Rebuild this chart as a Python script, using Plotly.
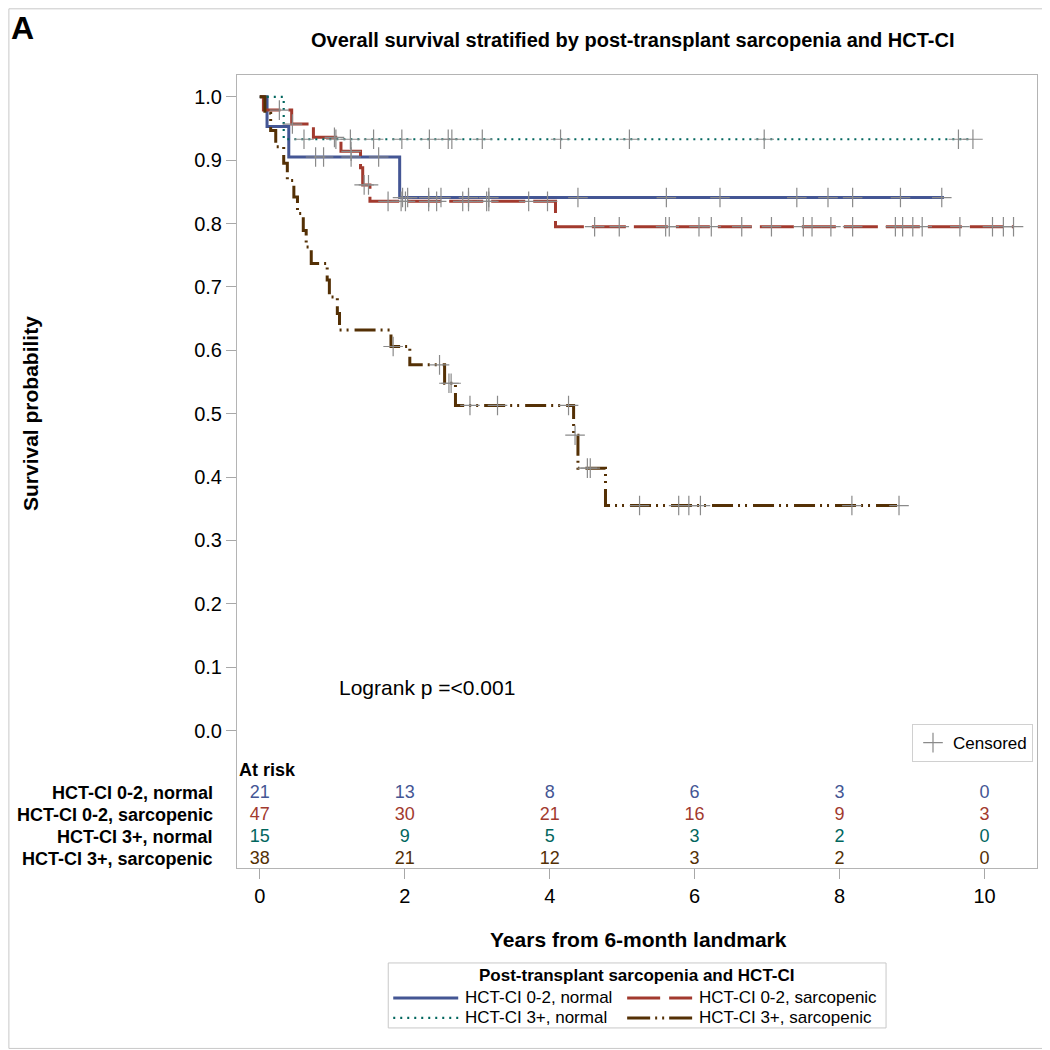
import numpy as np
import plotly.graph_objects as go

# ---------------- data ----------------
group_names = ["HCT-CI 0-2, normal", "HCT-CI 0-2, sarcopenic",
               "HCT-CI 3+, normal", "HCT-CI 3+, sarcopenic"]

# step points (time in years, survival after the step)
g1_times = [0.0, 0.10, 0.40, 1.93]
g1_surv = [1.0, 0.953, 0.905, 0.841]
g1_end = 9.44
g1_censor = [0.77, 0.88, 1.26, 1.64, 1.97, 2.04, 2.33, 2.50, 2.88, 3.16,
             4.39, 5.61, 6.35, 7.41, 7.84, 8.18, 8.84, 9.41]

g2_times = [0.0, 0.05, 0.44, 0.74, 1.12, 1.39, 1.42, 1.52, 4.08]
g2_surv = [1.0, 0.979, 0.957, 0.936, 0.914, 0.888, 0.861, 0.835, 0.795]
g2_end = 10.40
g2_censor = [0.27, 0.45, 1.03, 1.26, 1.44, 1.50, 1.77, 1.95, 2.01, 2.33, 2.44,
             2.80, 2.88, 3.13, 3.16, 3.71, 3.97, 4.62, 4.96, 5.60, 5.65, 6.06,
             6.23, 6.65, 7.06, 7.50, 7.62, 7.88, 8.18, 8.77, 8.87, 9.01, 9.14,
             9.66, 10.11, 10.26, 10.40]

g3_times = [0.0, 0.33]
g3_surv = [1.0, 0.933]
g3_end = 9.84
g3_censor = [0.61, 1.05, 1.25, 1.57, 1.96, 2.34, 2.60, 2.65, 3.07, 4.15, 5.10,
             6.96, 9.64, 9.84]

g4_times = [0.0, 0.07, 0.15, 0.22, 0.33, 0.38, 0.47, 0.52, 0.60, 0.64, 0.71,
            0.93, 0.96, 1.07, 1.10, 1.81, 2.07, 2.55, 2.70, 4.33, 4.39, 4.77]
g4_surv = [1.0, 0.974, 0.947, 0.921, 0.895, 0.868, 0.842, 0.816, 0.789, 0.763,
           0.737, 0.711, 0.684, 0.658, 0.632, 0.606, 0.577, 0.548, 0.513,
           0.466, 0.414, 0.355]
g4_end = 8.85
g4_censor = [1.84, 2.48, 2.61, 2.64, 2.90, 3.28, 4.26, 4.35, 4.52, 4.56, 5.24,
             5.78, 5.92, 6.08, 8.17, 8.82]

at_risk_times = [0, 2, 4, 6, 8, 10]
g1_at_risk = [21, 13, 8, 6, 3, 0]
g2_at_risk = [47, 30, 21, 16, 9, 3]
g3_at_risk = [15, 9, 5, 3, 2, 0]
g4_at_risk = [38, 21, 12, 3, 2, 0]

y_tick_vals = [0.0, 0.1, 0.2, 0.3, 0.4, 0.5, 0.6, 0.7, 0.8, 0.9, 1.0]
x_tick_vals = [0, 2, 4, 6, 8, 10]

# ---------------- styles ----------------
colors = ["#445694", "#A23A2E", "#01665E", "#543005"]
dashes = ["solid", "34px,8px", "2px,5px", "21px,5px,2px,5px,2px,6px"]
legend_dashes = ["solid", "33px,9px", "2px,5px", "23px,5px,2px,5px,2px,5px"]
widths = [3, 3, 2.2, 3]
FONT = "Liberation Sans, Arial, sans-serif"

groups = [
    (g1_times, g1_surv, g1_end, g1_censor, g1_at_risk),
    (g2_times, g2_surv, g2_end, g2_censor, g2_at_risk),
    (g3_times, g3_surv, g3_end, g3_censor, g3_at_risk),
    (g4_times, g4_surv, g4_end, g4_censor, g4_at_risk),
]

fig = go.Figure()

# survival curves
for i, (t, s, end, cens, risk) in enumerate(groups):
    fig.add_trace(go.Scatter(
        x=list(t) + [end], y=list(s) + [s[-1]],
        mode="lines", line=dict(shape="hv", color=colors[i], width=widths[i], dash=dashes[i]),
        name=group_names[i], showlegend=False, hoverinfo="skip"))

# censored marks
for i, (t, s, end, cens, risk) in enumerate(groups):
    ta = np.array(t)
    sa = np.array(s)
    idx = np.searchsorted(ta, np.array(cens), side="right") - 1
    fig.add_trace(go.Scatter(
        x=cens, y=sa[idx], mode="markers",
        marker=dict(symbol="cross-thin", size=14, color="#8a8a8a",
                    line=dict(width=1.2, color="#8a8a8a")),
        name="Censored", legend="legend2", showlegend=(i == 0), hoverinfo="skip"))

# at-risk table (inside the frame, below 0)
row_y = [-0.0986, -0.1333, -0.1680, -0.2027]
for i, (t, s, end, cens, risk) in enumerate(groups):
    fig.add_trace(go.Scatter(
        x=at_risk_times, y=[row_y[i]] * len(at_risk_times),
        mode="text", text=[str(v) for v in risk],
        textfont=dict(family=FONT, size=18, color=colors[i]),
        textposition="middle center", showlegend=False, hoverinfo="skip"))

# The page body has an 8px margin, so the figure is 1042 px and every
# reference pixel position is shifted by that offset.
OFF = 8
W = H = 1050 - OFF
L, R, T, B = 236.7 - OFF, 1037.0 - OFF, 74.7 - OFF, 868.0 - OFF
PW, PH = R - L, B - T
def px(x):
    return (x - OFF - L) / PW
def py(y):
    return (B - (y - OFF)) / PH

annotations = []
for i, name in enumerate(group_names):
    annotations.append(dict(text="<b>" + name + "</b>", xref="paper", yref="y",
                            x=px(215), y=row_y[i], xanchor="right", yanchor="middle",
                            showarrow=False, font=dict(family=FONT, size=18, color="black")))
annotations.append(dict(text="<b>At risk</b>", xref="paper", yref="y", x=px(237), y=-0.0623,
                        xanchor="left", yanchor="middle", showarrow=False,
                        font=dict(family=FONT, size=18, color="black")))
annotations.append(dict(text="Logrank p =<0.001", xref="x", yref="y", x=1.07, y=0.0686,
                        xanchor="left", yanchor="middle", showarrow=False,
                        font=dict(family=FONT, size=21, color="black")))
annotations.append(dict(text="<b>Survival probability</b>", xref="paper", yref="y",
                        x=px(30), y=0.5, xanchor="center", yanchor="middle", textangle=-90,
                        showarrow=False, font=dict(family=FONT, size=21, color="black")))
annotations.append(dict(text="<b>Years from 6-month landmark</b>", xref="paper", yref="paper",
                        x=px(638), y=py(940), xanchor="center", yanchor="middle",
                        showarrow=False, font=dict(family=FONT, size=21, color="black")))
annotations.append(dict(text="<b>Overall survival stratified by post-transplant sarcopenia and HCT-CI</b>",
                        xref="paper", yref="paper", x=px(633), y=py(40), xanchor="center",
                        yanchor="middle", showarrow=False,
                        font=dict(family=FONT, size=20, color="black")))
annotations.append(dict(text="<b>A</b>", xref="paper", yref="paper", x=px(9), y=py(28),
                        xanchor="left", yanchor="middle", showarrow=False,
                        font=dict(family=FONT, size=32, color="black")))

# outer border of the whole picture (right and bottom edges are visible)
shapes = [dict(type="rect", xref="paper", yref="paper", x0=px(8.5), x1=px(1047.5),
               y0=py(1048.5), y1=py(8.5), line=dict(color="#c8c8c8", width=1), layer="below")]

# group legend at the bottom (box, title, line samples and labels)
shapes.append(dict(type="rect", xref="paper", yref="paper", x0=px(388), x1=px(886),
                   y0=py(1028), y1=py(963), line=dict(color="#c8c8c8", width=1),
                   fillcolor="white", layer="below"))
annotations.append(dict(text="<b>Post-transplant sarcopenia and HCT-CI</b>", xref="paper",
                        yref="paper", x=px(637), y=py(976), xanchor="center", yanchor="middle",
                        showarrow=False, font=dict(family=FONT, size=17, color="black")))
leg_cols = [(393, 458, 463), (627, 692, 697)]
leg_rows = [998, 1018]
for i, name in enumerate(group_names):
    c0, c1, tx = leg_cols[i % 2]
    ry = leg_rows[i // 2]
    shapes.append(dict(type="line", xref="paper", yref="paper", x0=px(c0), x1=px(c1),
                       y0=py(ry), y1=py(ry),
                       line=dict(color=colors[i], width=widths[i], dash=legend_dashes[i])))
    annotations.append(dict(text=name, xref="paper", yref="paper", x=px(tx), y=py(ry),
                            xanchor="left", yanchor="middle", showarrow=False,
                            font=dict(family=FONT, size=17, color="black")))

fig.update_layout(
    width=W, height=H,
    margin=dict(l=L, r=W - R, t=T, b=H - B, pad=0, autoexpand=False),
    paper_bgcolor="white", plot_bgcolor="white",
    font=dict(family=FONT, color="black"),
    xaxis=dict(range=[-0.3145, 10.724], tickvals=x_tick_vals, ticks="outside", ticklen=10,
               tickcolor="#a8a8a8", showline=True, linecolor="#b4b4b4", linewidth=1, mirror=True,
               showgrid=False, zeroline=False, tickfont=dict(size=20, family=FONT)),
    yaxis=dict(range=[-0.2169, 1.0344], tickvals=y_tick_vals, tickformat=".1f", ticks="outside",
               ticklen=10, tickcolor="#a8a8a8", showline=True, linecolor="#b4b4b4", linewidth=1,
               mirror=True, showgrid=False, zeroline=False, tickfont=dict(size=20, family=FONT)),
    showlegend=True,
    legend2=dict(x=px(1033), y=py(724), xanchor="right", yanchor="top",
                 bordercolor="#d0d0d0", borderwidth=1, bgcolor="white",
                 font=dict(size=17, family=FONT), itemclick=False,
                 itemwidth=30),
    annotations=annotations,
    shapes=shapes,
)

fig.write_html("out.html")
